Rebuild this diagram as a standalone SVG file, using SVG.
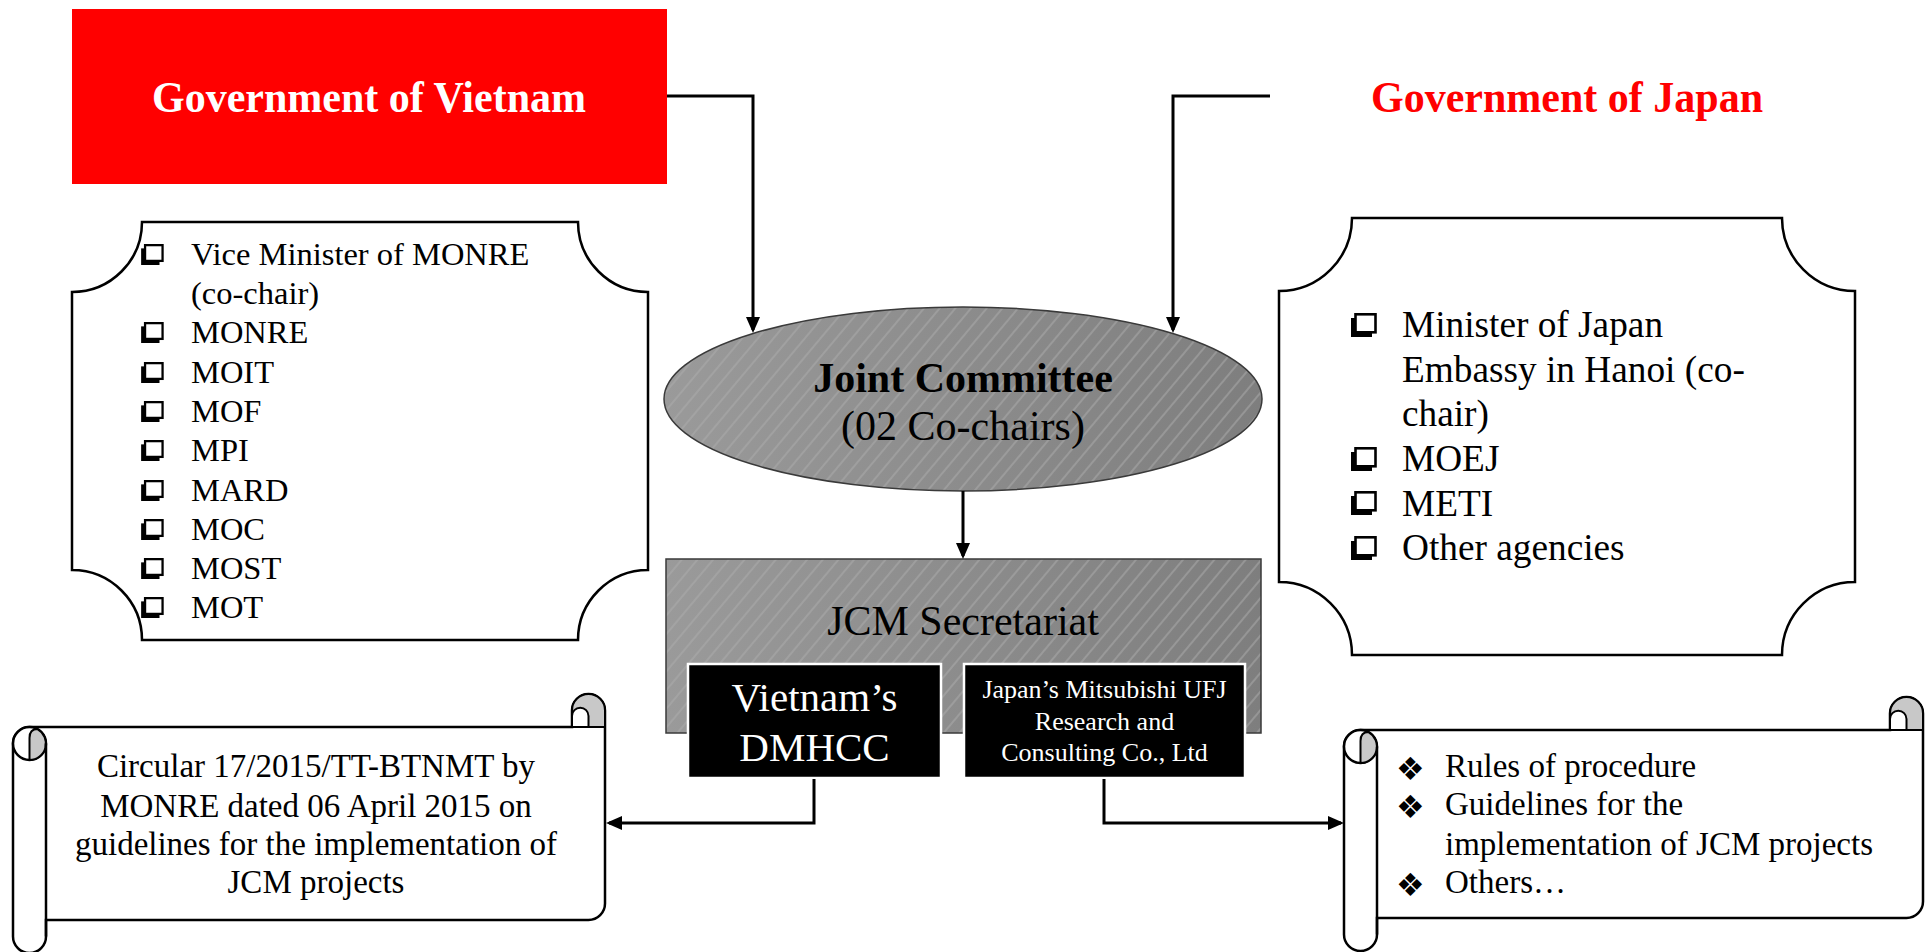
<svg xmlns="http://www.w3.org/2000/svg" xmlns:xlink="http://www.w3.org/1999/xlink" width="1925" height="952" viewBox="0 0 1925 952">
  <style>
    .t { font-family: "Liberation Serif", "Times New Roman", serif; fill: #000; }
    .b { font-weight: bold; }
    .w { fill: #fff; }
    .c { text-anchor: middle; }
    .vn { font-size: 32.5px; }
    .jp { font-size: 37.3px; }
    .sc { font-size: 33px; }
    .bul { font-family: "DejaVu Sans", sans-serif; font-size: 32px; fill: #000; }
    .frame { fill: #fff; stroke: #000; stroke-width: 2.5; }
    .ln { fill: none; stroke: #000; stroke-width: 2.5; }
    .curl { fill: #c8c8c8; stroke: #000; stroke-width: 2; }
    .notch { fill: #fff; stroke: #000; stroke-width: 2; }
    .conn { fill: none; stroke: #000; stroke-width: 3; marker-end: url(#arr); }
  </style>
  <defs>
    <marker id="arr" markerUnits="userSpaceOnUse" markerWidth="16" markerHeight="14" refX="13" refY="7" orient="auto">
      <path d="M0,0 L16,7 L0,14 Z" fill="#000"/>
    </marker>
    <linearGradient id="gray" x1="0" y1="0" x2="1" y2="0">
      <stop offset="0" stop-color="#9a9a9a"/>
      <stop offset="1" stop-color="#7e7e7e"/>
    </linearGradient>
    <pattern id="hatch" width="12" height="12" patternUnits="userSpaceOnUse" patternTransform="rotate(40)">
      <line x1="6" y1="0" x2="6" y2="12" stroke="#adadad" stroke-width="1"/>
    </pattern>
    <symbol id="cb" viewBox="0 0 26 24">
      <rect x="0" y="5" width="21" height="19" fill="#000"/>
      <rect x="4.5" y="1.3" width="20" height="18" fill="#fff" stroke="#000" stroke-width="2.6"/>
    </symbol>
  </defs>

  <!-- Government of Vietnam -->
  <g id="gov-vietnam">
    <rect x="72" y="9" width="595" height="175" fill="#ff0000"/>
    <text class="t b w c" x="369" y="112" font-size="45" textLength="434" lengthAdjust="spacingAndGlyphs">Government of Vietnam</text>
  </g>

  <!-- Government of Japan -->
  <g id="gov-japan">
    <text class="t b c" x="1567" y="112" font-size="45" style="fill:#ff0000" textLength="392" lengthAdjust="spacingAndGlyphs">Government of Japan</text>
  </g>

  <!-- Vietnam members -->
  <g id="vn-members">
    <path class="frame" d="M142 222 H578 A70 70 0 0 0 648 292 V570 A70 70 0 0 0 578 640 H142 A70 70 0 0 0 72 570 V292 A70 70 0 0 0 142 222 Z"/>
    <use href="#cb" x="141" y="244" width="23" height="21"/>
    <use href="#cb" x="141" y="322" width="23" height="21"/>
    <use href="#cb" x="141" y="362" width="23" height="21"/>
    <use href="#cb" x="141" y="401" width="23" height="21"/>
    <use href="#cb" x="141" y="440" width="23" height="21"/>
    <use href="#cb" x="141" y="480" width="23" height="21"/>
    <use href="#cb" x="141" y="519" width="23" height="21"/>
    <use href="#cb" x="141" y="558" width="23" height="21"/>
    <use href="#cb" x="141" y="597" width="23" height="21"/>
    <text class="t vn" x="191" y="265">Vice Minister of MONRE</text>
    <text class="t vn" x="191" y="304">(co-chair)</text>
    <text class="t vn" x="191" y="343">MONRE</text>
    <text class="t vn" x="191" y="383">MOIT</text>
    <text class="t vn" x="191" y="422">MOF</text>
    <text class="t vn" x="191" y="461">MPI</text>
    <text class="t vn" x="191" y="501">MARD</text>
    <text class="t vn" x="191" y="540">MOC</text>
    <text class="t vn" x="191" y="579">MOST</text>
    <text class="t vn" x="191" y="618">MOT</text>
  </g>

  <!-- Japan members -->
  <g id="jp-members">
    <path class="frame" d="M1352 218 H1782 A73 73 0 0 0 1855 291 V582 A73 73 0 0 0 1782 655 H1352 A73 73 0 0 0 1279 582 V291 A73 73 0 0 0 1352 218 Z"/>
    <use href="#cb" x="1351" y="313" width="26" height="24"/>
    <use href="#cb" x="1351" y="447" width="26" height="24"/>
    <use href="#cb" x="1351" y="491" width="26" height="24"/>
    <use href="#cb" x="1351" y="536" width="26" height="24"/>
    <text class="t jp" x="1402" y="337">Minister of Japan</text>
    <text class="t jp" x="1402" y="382">Embassy in Hanoi (co-</text>
    <text class="t jp" x="1402" y="426">chair)</text>
    <text class="t jp" x="1402" y="471">MOEJ</text>
    <text class="t jp" x="1402" y="516">METI</text>
    <text class="t jp" x="1402" y="560">Other agencies</text>
  </g>

  <!-- Joint Committee -->
  <g id="joint-committee">
    <ellipse cx="963" cy="399" rx="299" ry="92" fill="url(#gray)"/>
    <ellipse cx="963" cy="399" rx="299" ry="92" fill="url(#hatch)" stroke="#3a3a3a" stroke-width="1.5"/>
    <text class="t b c" x="963" y="392" font-size="42">Joint Committee</text>
    <text class="t c" x="963" y="440" font-size="42">(02 Co-chairs)</text>
  </g>

  <!-- JCM Secretariat -->
  <g id="jcm-secretariat">
    <rect x="666" y="559" width="595" height="174" fill="url(#gray)"/>
    <rect x="666" y="559" width="595" height="174" fill="url(#hatch)" stroke="#3a3a3a" stroke-width="1.5"/>
    <text class="t c" x="963" y="635" font-size="42">JCM Secretariat</text>
  </g>

  <!-- Vietnam's DMHCC -->
  <g id="vn-dmhcc">
    <rect x="688" y="664" width="253" height="114" fill="#000" stroke="#fff" stroke-width="2.5"/>
    <text class="t w c" x="814.5" y="711" font-size="41">Vietnam’s</text>
    <text class="t w c" x="814.5" y="761" font-size="41">DMHCC</text>
  </g>

  <!-- Japan's MURC -->
  <g id="jp-murc">
    <rect x="964" y="664" width="281" height="114" fill="#000" stroke="#fff" stroke-width="2.5"/>
    <text class="t w c" x="1104.5" y="698" font-size="26">Japan’s Mitsubishi UFJ</text>
    <text class="t w c" x="1104.5" y="730" font-size="26">Research and</text>
    <text class="t w c" x="1104.5" y="761" font-size="26">Consulting Co., Ltd</text>
  </g>

  <!-- Circular scroll (left) -->
  <g id="circular-scroll">
    <path class="frame" d="M13 743.5 A16.5 16.5 0 0 1 29.5 727 L572 727 L572 710.5 A16.5 16.5 0 0 1 605 710.5 L605 903.5 A16.5 16.5 0 0 1 588.5 920 L46 920 L46 936.5 A16.5 16.5 0 0 1 13 936.5 Z"/>
    <circle cx="29.5" cy="743.5" r="16.5" class="frame" stroke-width="2"/>
    <path class="curl" d="M29.5 760 V738 Q29.5 729.1 37.5 729.1 A16.5 16.5 0 0 1 29.5 760 Z"/>
    <path class="ln" d="M46 743.5 V936.5"/>
    <path class="curl" d="M572 710.5 A16.5 16.5 0 0 1 605 710.5 V727 H572 Z"/>
    <path class="notch" d="M572 727 V716 A8.25 8.25 0 0 1 588.5 716 V727 Z"/>
    <text class="t sc c" x="316" y="777">Circular 17/2015/TT-BTNMT by</text>
    <text class="t sc c" x="316" y="817">MONRE dated 06 April 2015 on</text>
    <text class="t sc c" x="316" y="855">guidelines for the implementation of</text>
    <text class="t sc c" x="316" y="893">JCM projects</text>
  </g>

  <!-- Rules scroll (right) -->
  <g id="rules-scroll">
    <path class="frame" d="M1344 746.5 A16.5 16.5 0 0 1 1360.5 730 L1890 730 L1890 713.5 A16.5 16.5 0 0 1 1923 713.5 L1923 901.5 A16.5 16.5 0 0 1 1906.5 918 L1377 918 L1377 934.5 A16.5 16.5 0 0 1 1344 934.5 Z"/>
    <circle cx="1360.5" cy="746.5" r="16.5" class="frame" stroke-width="2"/>
    <path class="curl" d="M1360.5 763 V741 Q1360.5 732.1 1368.5 732.1 A16.5 16.5 0 0 1 1360.5 763 Z"/>
    <path class="ln" d="M1377 746.5 V934.5"/>
    <path class="curl" d="M1890 713.5 A16.5 16.5 0 0 1 1923 713.5 V730 H1890 Z"/>
    <path class="notch" d="M1890 730 V719 A8.25 8.25 0 0 1 1906.5 719 V730 Z"/>
    <text class="bul" x="1396" y="780">❖</text>
    <text class="bul" x="1396" y="818">❖</text>
    <text class="bul" x="1396" y="896">❖</text>
    <text class="t sc" x="1445" y="777">Rules of procedure</text>
    <text class="t sc" x="1445" y="815">Guidelines for the</text>
    <text class="t sc" x="1445" y="855">implementation of JCM projects</text>
    <text class="t sc" x="1445" y="893">Others…</text>
  </g>

  <!-- Connectors -->
  <g id="connectors">
    <path class="conn" d="M667 96 H753 V330"/>
    <path class="conn" d="M1270 96 H1173 V330"/>
    <path class="conn" d="M963 491 V556"/>
    <path class="conn" d="M814 779 V823 H609"/>
    <path class="conn" d="M1104 779 V823 H1341"/>
  </g>
</svg>
